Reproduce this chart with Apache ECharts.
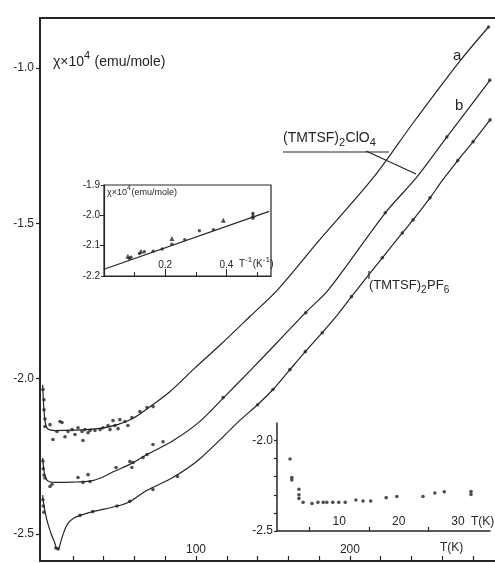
<!DOCTYPE html>
<html><head><meta charset="utf-8">
<script src="https://cdn.jsdelivr.net/npm/echarts@6/dist/echarts.min.js"></script>
<style>html,body{margin:0;padding:0;background:#fff}#c{width:495px;height:563px}</style>
</head><body><div id="c"></div>
<script>
// ---- main plot: chi x 10^4 (emu/mole) vs T (K) ----
const mainXTicks = [20,40,60,80,100,120,140,160,180,200,220,240,260,280];
const mainXLabels = [100,200];
const mainYTicks = [-2.5,-2.0,-1.5,-1.0];

// fitted curves [T, chi]
const lineA = [[0.4,-2.02],[1.0,-2.08],[1.6,-2.12],[2.5,-2.15],[4,-2.163],[8,-2.167],[18,-2.166],[28,-2.164],[39,-2.159],[49,-2.148],[59,-2.128],[68,-2.098],[83,-2.042],[99,-1.967],[116,-1.890],[135,-1.800],[153,-1.714],[180,-1.555],[215,-1.354],[241,-1.177],[272,-0.974],[290,-0.868]];
const lineB = [[0.4,-2.255],[1.0,-2.285],[1.8,-2.31],[3,-2.325],[5,-2.332],[8,-2.334],[20,-2.333],[31,-2.330],[38,-2.320],[47,-2.298],[57,-2.276],[68,-2.245],[85,-2.200],[102,-2.140],[118,-2.061],[135,-1.975],[153,-1.882],[171,-1.788],[186,-1.714],[223,-1.466],[243,-1.354],[263,-1.222],[291,-1.039]];
const lineC = [[0.4,-2.375],[1.0,-2.40],[2.0,-2.43],[4,-2.47],[6,-2.50],[8.4,-2.53],[9.7,-2.548],[11,-2.545],[12.5,-2.52],[14.5,-2.49],[17,-2.465],[21,-2.448],[25,-2.44],[33,-2.428],[49,-2.41],[57,-2.396],[68,-2.36],[85,-2.318],[102,-2.26],[129,-2.132],[140,-2.084],[150,-2.035],[161,-1.971],[171,-1.913],[182,-1.852],[192,-1.794],[201,-1.736],[221,-1.611],[234,-1.531],[241,-1.489],[252,-1.418],[260,-1.362],[270,-1.298],[280,-1.237],[291,-1.167]];

// measured points [T, chi]
const ptsA = [[0.65,-2.035],[1.3,-2.068],[1.3,-2.10],[1.9,-2.13],[1.9,-2.154],[5.2,-2.148],[7.1,-2.196],[9.7,-2.17],[11.7,-2.138],[13,-2.141],[14.9,-2.187],[16.9,-2.17],[19.5,-2.164],[21.4,-2.18],[23.4,-2.158],[26,-2.17],[26.6,-2.199],[27.9,-2.164],[29.9,-2.174],[31.2,-2.167],[34.4,-2.167],[37.7,-2.164],[39.6,-2.158],[42.9,-2.151],[44.2,-2.164],[46.1,-2.135],[47.4,-2.151],[49.4,-2.161],[50.6,-2.132],[53.9,-2.138],[55.8,-2.151],[58.4,-2.125],[63.6,-2.106],[68.2,-2.093],[72.1,-2.090],[290,-0.868]];
const ptsB = [[0.6,-2.265],[0.8,-2.29],[1.3,-2.31],[1.9,-2.32],[5.2,-2.347],[6.5,-2.34],[23.4,-2.318],[26.6,-2.334],[29.9,-2.309],[31.2,-2.331],[48.1,-2.286],[57.1,-2.267],[58.4,-2.286],[59.1,-2.27],[65.6,-2.254],[68.2,-2.244],[72.1,-2.212],[78.6,-2.203],[117.6,-2.061],[171.3,-1.788],[222.9,-1.466],[262.9,-1.222],[290.8,-1.039]];
const ptsC = [[0.6,-2.39],[0.8,-2.41],[1.2,-2.43],[9,-2.545],[10.5,-2.548],[24.7,-2.44],[33,-2.428],[48.7,-2.41],[57,-2.395],[72,-2.357],[88,-2.315],[140,-2.084],[150,-2.035],[161,-1.971],[171,-1.913],[182,-1.852],[201,-1.736],[221,-1.611],[234,-1.531],[241,-1.489],[252,-1.418],[270,-1.298],[280,-1.237],[291,-1.167]];

// ---- upper inset: chi vs 1/T ----
const in1XMinor = [0.1,0.3,0.5];
const in1XMajor = [0.2,0.4];
const in1YTicks = [-2.2,-2.1,-2.0,-1.9];
const in1Line = [[0,-2.178],[0.54,-1.987]];
const in1Dots = [[0.083,-2.142],[0.088,-2.138],[0.116,-2.126],[0.132,-2.120],[0.161,-2.118],[0.190,-2.111],[0.222,-2.095],[0.264,-2.080],[0.312,-2.051],[0.358,-2.047],[0.487,-2.010],[0.487,-1.994]];
const in1Tri = [[0.078,-2.135],[0.121,-2.118],[0.222,-2.076],[0.390,-2.016],[0.487,-2.0]];

// ---- lower inset: low-T data ----
const in2XTicks = [5,15,25];
const in2XLabels = [10,20,30];
const in2YTicks = [-2.5,-2.4,-2.3,-2.2,-2.1,-2.0];
const in2YLabels = [-2.5,-2.0];
const in2Pts = [[1.7,-2.103],[2.0,-2.205],[2.0,-2.218],[3.2,-2.27],[3.2,-2.30],[3.2,-2.32],[3.9,-2.342],[5.4,-2.348],[6.4,-2.342],[7.3,-2.342],[7.9,-2.342],[8.9,-2.342],[9.9,-2.342],[11,-2.342],[12.8,-2.329],[14,-2.335],[15.3,-2.335],[17.9,-2.316],[19.7,-2.31],[24.1,-2.31],[26.1,-2.29],[27.7,-2.284],[32.2,-2.282],[32.2,-2.298]];

const INK = '#262626';
const FONT = '"Liberation Sans", "DejaVu Sans", sans-serif';
const fmt1 = v => Number(v).toFixed(1);

// text with real subscripts / superscripts built from pieces
const mctx = document.createElement('canvas').getContext('2d');
function richLabel(x, y, parts, size) {
  const out = [];
  let cx = x;
  parts.forEach(p => {
    const [txt, kind] = p;
    const fs = kind ? Math.round(size * 0.8) : size;
    const dy = kind === 'sub' ? size * 0.45 : (kind === 'sup' ? -size * 0.35 : 0);
    const font = fs + 'px ' + FONT;
    out.push({type:'text', left:cx, top:y + dy, z:10, style:{text:txt, font:font, fill:INK}});
    mctx.font = font;
    cx += mctx.measureText(txt).width + (kind ? 0.5 : 0);
  });
  return out;
}

const chart = echarts.init(document.getElementById('c'), null, {renderer:'canvas'});
const lineSeries = (d) => ({type:'line', xAxisIndex:0, yAxisIndex:0, data:d, showSymbol:false, smooth:0.3, lineStyle:{color:INK, width:1.2}, z:3, silent:true});
const ptSeries = (d, xi, yi, sym, size) => ({type:'scatter', xAxisIndex:xi, yAxisIndex:yi, data:d, symbol:sym||'circle', symbolSize:size||3.6, itemStyle:{color:INK}, z:4, silent:true});

chart.setOption({
  animation:false,
  backgroundColor:'#fff',
  textStyle:{fontFamily:FONT, color:INK},
  grid:[
    {left:40, top:18, right:0, bottom:2},
    {left:104, top:185, width:167, height:91, show:true, borderColor:INK, borderWidth:1.2, backgroundColor:'transparent'},
    {left:277, top:423, width:213, height:108}
  ],
  xAxis:[
    {gridIndex:0, type:'value', position:'bottom', min:-1.3, max:294.2,
      axisLine:{show:true, onZero:false, lineStyle:{color:INK, width:2}},
      axisTick:{show:true, inside:true, length:5, customValues:mainXTicks, lineStyle:{color:INK, width:1.2}},
      axisLabel:{show:true, inside:true, margin:5, customValues:mainXLabels, fontSize:12, color:INK, fontFamily:FONT},
      splitLine:{show:false}},
    {gridIndex:0, type:'value', position:'top', min:-1.3, max:294.2,
      axisLine:{show:true, onZero:false, lineStyle:{color:INK, width:2}},
      axisTick:{show:false}, axisLabel:{show:false}, splitLine:{show:false}},
    {gridIndex:1, type:'value', position:'bottom', min:0, max:0.546,
      axisLine:{show:true, onZero:false, lineStyle:{color:INK, width:1.2}},
      axisTick:{show:true, inside:true, length:7, customValues:in1XMajor, lineStyle:{color:INK, width:1}},
      axisLabel:{show:true, inside:true, margin:6, customValues:in1XMajor, fontSize:10, color:INK, fontFamily:FONT, formatter:fmt1},
      splitLine:{show:false}},
    {gridIndex:1, type:'value', position:'bottom', min:0, max:0.546,
      axisLine:{show:false},
      axisTick:{show:true, inside:true, length:4, customValues:in1XMinor, lineStyle:{color:INK, width:1}},
      axisLabel:{show:false}, splitLine:{show:false}},
    {gridIndex:2, type:'value', position:'bottom', min:-0.5, max:35.4,
      axisLine:{show:true, onZero:false, lineStyle:{color:INK, width:1.5}},
      axisTick:{show:true, inside:true, length:4, customValues:in2XTicks, lineStyle:{color:INK, width:1.2}},
      axisLabel:{show:true, inside:true, margin:3, customValues:in2XLabels, fontSize:12, color:INK, fontFamily:FONT},
      splitLine:{show:false}}
  ],
  yAxis:[
    {gridIndex:0, type:'value', position:'left', min:-2.587, max:-0.839,
      axisLine:{show:true, onZero:false, lineStyle:{color:INK, width:2}},
      axisTick:{show:true, inside:false, length:4, customValues:mainYTicks, lineStyle:{color:INK, width:1.2}},
      axisLabel:{show:true, margin:6, customValues:mainYTicks, fontSize:12, color:INK, fontFamily:FONT, formatter:fmt1},
      splitLine:{show:false}},
    {gridIndex:1, type:'value', position:'left', min:-2.2, max:-1.9,
      axisLine:{show:true, onZero:false, lineStyle:{color:INK, width:1.2}},
      axisTick:{show:true, inside:false, length:3, customValues:in1YTicks, lineStyle:{color:INK, width:1}},
      axisLabel:{show:true, margin:4, customValues:in1YTicks, fontSize:10, color:INK, fontFamily:FONT, formatter:fmt1},
      splitLine:{show:false}},
    {gridIndex:1, type:'value', position:'right', min:-2.2, max:-1.9,
      axisLine:{show:false},
      axisTick:{show:true, inside:true, length:4, customValues:[-2.1,-2.0], lineStyle:{color:INK, width:1}},
      axisLabel:{show:false}, splitLine:{show:false}},
    {gridIndex:2, type:'value', position:'left', min:-2.5, max:-1.904,
      axisLine:{show:true, onZero:false, lineStyle:{color:INK, width:1.5}},
      axisTick:{show:true, inside:false, length:3, customValues:in2YTicks, lineStyle:{color:INK, width:1.2}},
      axisLabel:{show:true, margin:4, customValues:in2YLabels, fontSize:12, color:INK, fontFamily:FONT, formatter:fmt1},
      splitLine:{show:false}}
  ],
  series:[
    lineSeries(lineA), lineSeries(lineB), lineSeries(lineC),
    ptSeries(ptsA,0,0), ptSeries(ptsB,0,0), ptSeries(ptsC,0,0),
    {type:'line', xAxisIndex:2, yAxisIndex:1, data:in1Line, showSymbol:false, lineStyle:{color:INK, width:1.1}, z:6, silent:true},
    Object.assign(ptSeries(in1Dots,2,1,'circle',3.4), {z:7}),
    Object.assign(ptSeries(in1Tri,2,1,'triangle',5), {z:7}),
    ptSeries(in2Pts,4,3,'circle',3.6)
  ],
  graphic:[].concat(
    richLabel(53, 55, [['χ×10'],['4','sup'],[' (emu/mole)']], 14),
    [{type:'text', left:453, top:48, style:{text:'a', font:'15px '+FONT, fill:INK}},
     {type:'text', left:455, top:98, style:{text:'b', font:'15px '+FONT, fill:INK}}],
    richLabel(283, 131, [['(TMTSF)'],['2','sub'],['ClO'],['4','sub']], 14),
    [{type:'polyline', shape:{points:[[283,152],[389,152]]}, style:{stroke:INK, lineWidth:1.2, fill:null}},
     {type:'polyline', shape:{points:[[366,151],[416,174]]}, style:{stroke:INK, lineWidth:1.2, fill:null}}],
    richLabel(369, 279, [['(TMTSF)'],['2','sub'],['PF'],['6','sub']], 13),
    [{type:'polyline', shape:{points:[[369,271],[369,279]]}, style:{stroke:INK, lineWidth:1.2, fill:null}},
     {type:'text', left:440, top:542, style:{text:'T(K)', font:'12px '+FONT, fill:INK}}],
    richLabel(107, 188, [['χ×10'],['4','sup'],['(emu/mole)']], 9),
    richLabel(239, 259, [['T'],['-1','sup'],['(K'],['-1','sup'],[')']], 10),
    [{type:'text', left:471, top:516, style:{text:'T(K)', font:'12px '+FONT, fill:INK}}]
  )
});
</script>
</body></html>
